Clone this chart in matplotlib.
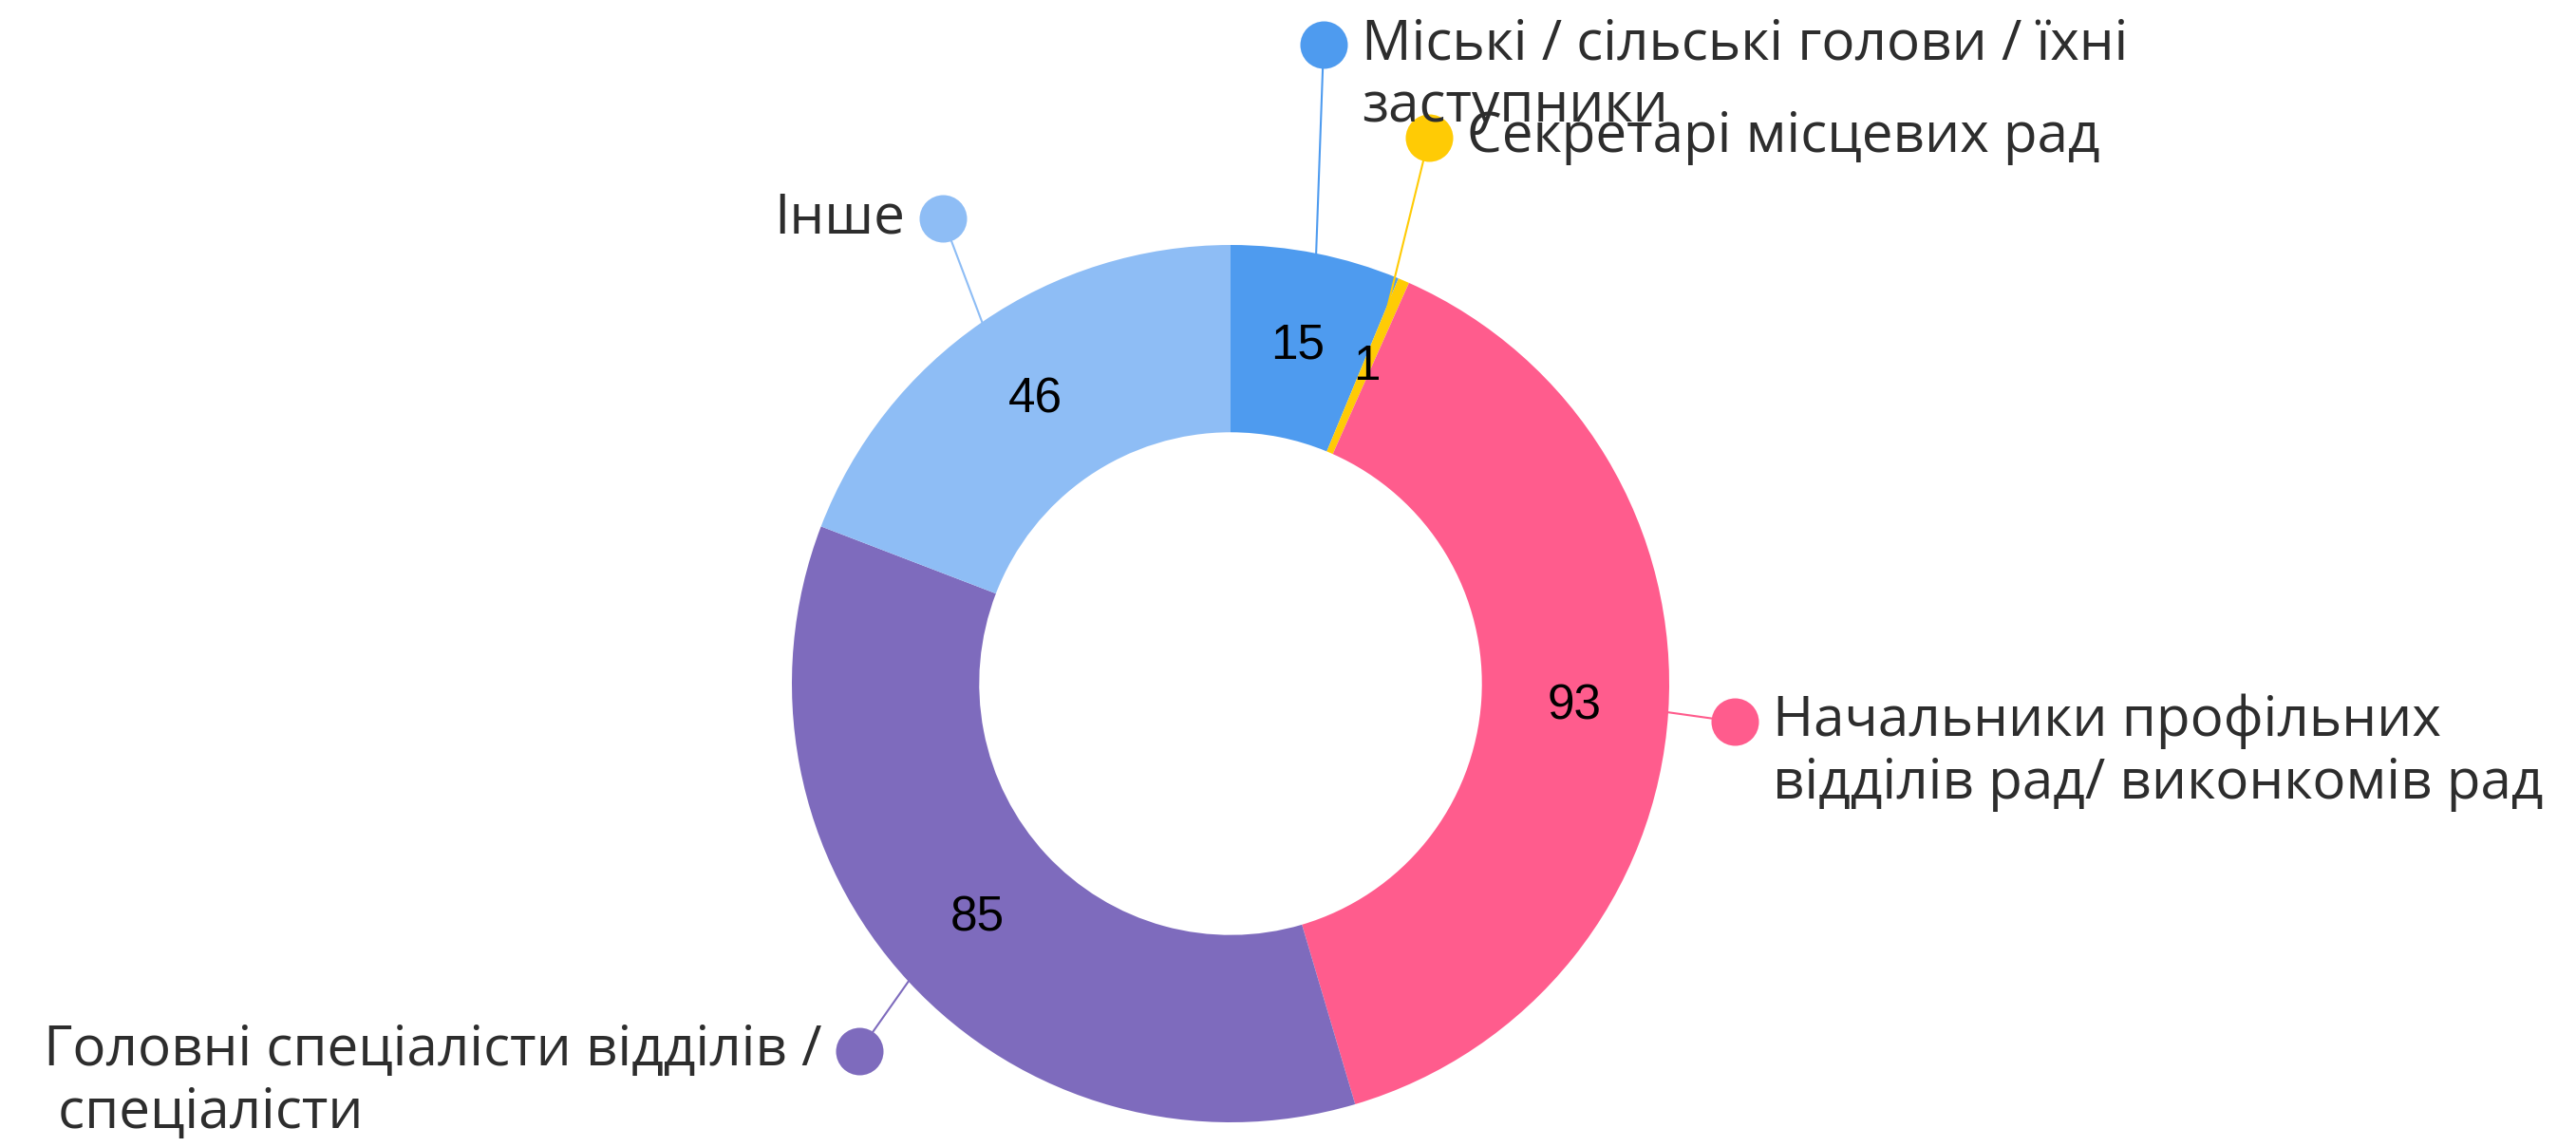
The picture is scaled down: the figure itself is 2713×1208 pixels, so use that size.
import numpy as np
import matplotlib
matplotlib.use('Agg')
import matplotlib.pyplot as plt

# дані
kategorii = [['Міські / сільські голови / їхні', 'заступники'],
             ['Секретарі місцевих рад'],
             ['Начальники профільних', 'відділів рад/ виконкомів рад'],
             ['Головні спеціалісти відділів /', ' спеціалісти'],
             ['Інше']]
znachennia = [15, 1, 93, 85, 46]
kolory = ['#4E9BEF', '#FFCB05', '#FF5C8D', '#7E6BBD', '#8EBDF5']

W, H = 2713, 1208
fig = plt.figure(figsize=(W / 100, H / 100), dpi=100)
ax = fig.add_axes([0, 0, 1, 1])
ax.set_xlim(0, W)
ax.set_ylim(0, H)

cx, cy = 1296, H - 720
R = 462
shyryna = 0.427

wedges, _, avtotexty = ax.pie(znachennia, colors=kolory, startangle=90, counterclock=False,
                              center=(cx, cy), radius=R, frame=True,
                              autopct=lambda p: '%d' % round(p * sum(znachennia) / 100),
                              pctdistance=1 - shyryna / 2,
                              wedgeprops=dict(width=R * shyryna, linewidth=0),
                              textprops=dict(fontsize=37, family='Liberation Sans', color='black'))

# розташування маркерів підписів і вирівнювання
pidpysy = [
    ((1394, 47), 'left'),
    ((1505, 145), 'left'),
    ((1827, 760), 'left'),
    ((905, 1107), 'right'),
    ((993, 230), 'right'),
]
krok = 66
shryft = dict(fontsize=42, family='Open Sans', color='#2d2d2d', zorder=5)

fig.canvas.draw()
for w, kol, ryadky, ((mx, my), ha) in zip(wedges, kolory, kategorii, pidpysy):
    kut = np.deg2rad((w.theta1 + w.theta2) / 2)
    # лінія до тонкого сектора заходить усередину кільця
    r0 = R if w.theta2 - w.theta1 > 5 else R * 0.87
    ex = cx + r0 * np.cos(kut)
    ey = cy + r0 * np.sin(kut)
    my = H - my
    ax.plot([ex, mx], [ey, my], color=kol, lw=1.5, zorder=3)
    ax.plot(mx, my, 'o', ms=36, color=kol, mec='none', zorder=4)
    dx = 40 if ha == 'left' else -40
    t = ax.text(mx + dx, my, ryadky[0], ha=ha, va='center', **shryft)
    if len(ryadky) > 1:
        x0 = mx + dx
        if ha == 'right':
            bb = t.get_window_extent(fig.canvas.get_renderer())
            x0 = ax.transData.inverted().transform((bb.x0, bb.y0))[0]
        ax.text(x0, my - krok, ryadky[1], ha='left', va='center', **shryft)

ax.set_aspect('equal')
ax.axis('off')
plt.savefig('out.png', dpi=100)
plt.close()
